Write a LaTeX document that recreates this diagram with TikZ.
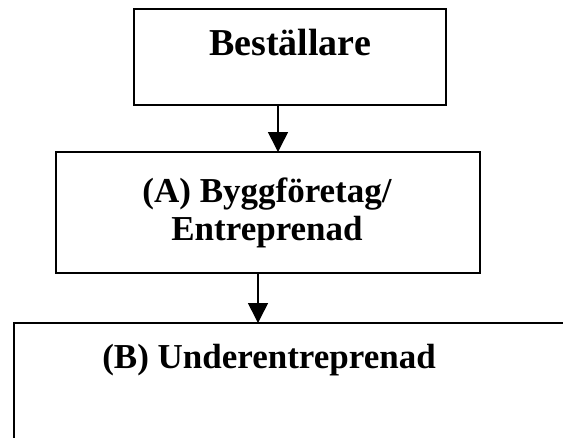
\documentclass[tikz,border=0pt]{standalone}
\usepackage{fontspec}
\setmainfont{Liberation Serif}
\usetikzlibrary{arrows.meta}
\begin{document}
\begin{tikzpicture}[x=1pt,y=1pt,
  box/.style={draw=black, line width=2pt, rectangle, inner sep=0pt, fill=white},
  lbl/.style={font=\fontsize{35}{38}\selectfont\bfseries, anchor=base, inner sep=0pt, align=center},
  arr/.style={draw=black, line width=1.6pt, -{Triangle[width=20pt,length=20pt]}, shorten >=-1pt}]
\useasboundingbox (0,0) rectangle (563,-437);
\clip (0,0) rectangle (563,-437);
\node[box, minimum width=312pt, minimum height=96pt] (T) at (290,-57) {};
\node[lbl, font=\fontsize{38}{40}\selectfont\bfseries] (Tt) at (290,-55) {Beställare};
\node[box, minimum width=424pt, minimum height=121pt] (A) at (268,-212.5) {};
\node[lbl] (At1) at (267,-202) {(A) Byggföretag/};
\node[lbl] (At2) at (267,-240) {Entreprenad};
\node[box, minimum width=620pt, minimum height=200pt, anchor=north west] (B) at (13,-322) {};
\node[lbl] (Bt) at (269,-368) {(B) Underentreprenad};
\draw[arr] ([xshift=-12pt]T.south) -- ([xshift=-12pt]T.south |- A.north);
\draw[arr] ([xshift=-10pt]A.south) -- ([xshift=-10pt]A.south |- B.north);
\end{tikzpicture}
\end{document}
